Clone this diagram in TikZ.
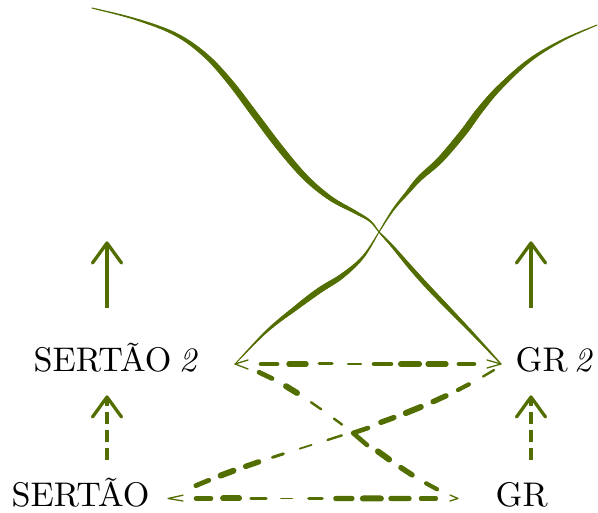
\documentclass[tikz,border=0pt]{standalone}
\usetikzlibrary{calc}
\definecolor{olv}{RGB}{82,110,0}
\newcommand\ldsh[5]{\pgfmathsetmacro\dshw{1.2*#5}\draw[dsh, line width=\dshw pt] ($(#1)!#3!(#2)$) -- ($(#1)!#4!(#2)$);}
\newcommand\cdsh[7]{\path (#1) .. controls (#2) and (#3) .. (#4) coordinate[pos=#5] (cdA) coordinate[pos=#6] (cdB);
  \pgfmathsetmacro\dshw{1.2*#7}\draw[dsh, line width=\dshw pt] (cdA) -- (cdB);}
% #1 number of segments, #2 point prefix, #3 width expression (uses \tpf, \tps)
\newcommand\taper[3]{%
  \pgfmathtruncatemacro\tplast{#1-1}%
  \foreach \i in {0,...,\tplast} {%
    \pgfmathtruncatemacro\tpa{max(\i-1,0)}%
    \pgfmathtruncatemacro\tpb{\i+1}%
    \pgfmathtruncatemacro\tpc{min(\i+2,#1)}%
    \coordinate (tc1) at ($(#2\i)+0.1667*(#2\tpb)-0.1667*(#2\tpa)$);
    \coordinate (tc2) at ($(#2\tpb)-0.1667*(#2\tpc)+0.1667*(#2\i)$);
    \foreach \k in {0,...,12} {\path (#2\i) .. controls (tc1) and (tc2) .. (#2\tpb) coordinate[pos=\k/12] (tq\k);}
    \foreach \k [remember=\k as \kp (initially 0)] in {1,...,12} {%
      \pgfmathsetmacro\tpf{(\i+(\k-0.5)/12)/#1}%
      \pgfmathsetmacro\tps{sin(180*\tpf)}%
      \pgfmathsetmacro\tpw{1.25*(#3)}%
      \draw[olv, line width=\tpw pt, line cap=round] (tq\kp) -- (tq\k);
    }
  }}
\begin{document}
\begin{tikzpicture}[x=1pt,y=-1pt,
  lbl/.style={anchor=base west, inner sep=0pt, scale=3.42},
  dsh/.style={olv, line cap=round},
  smalltip/.style={olv, line width=1.3pt, line cap=round, line join=round},
  bigtip/.style={olv, line width=3.3pt, line cap=round, line join=round},
  crosstip/.style={olv, line width=4.6pt, line cap=round, line join=round},
  shaft/.style={olv, line width=3.3pt},
  dshaft/.style={olv, line width=3.3pt, dash pattern=on 12pt off 6pt}]
\useasboundingbox (0,0) rectangle (598,513);
% labels
\node[lbl] (s2) at (33,372) {SERTÃO\hspace{2.2pt}\textit{2}};
\node[lbl] (g2) at (515,372) {GR\hspace{1.8pt}\textit{2}};
\node[lbl] (s) at (11,507) {SERTÃO};
\node[lbl] (g) at (495,507) {GR};
% connector end points
\coordinate (s2r) at (235,364);
\coordinate (g2l) at (501,364);
\coordinate (g2s) at (499,367);
\coordinate (sr) at (168,498.5);
\coordinate (gl) at (458,498.5);
\coordinate (xa) at (379,232);
\coordinate (xb) at (353,433);
\coordinate (ta) at (92,8);
\coordinate (tb) at (597,25);
\coordinate (c2a) at (309.3,382.7);
\coordinate (c2b) at (383.7,471);
\coordinate (c3a) at (388.7,435.7);
\coordinate (c3b) at (277.3,444.3);
\coordinate (s2a) at (107,308); \coordinate (s2t) at (107,243);
\coordinate (g2a) at (531,308); \coordinate (g2t) at (531,243);
\coordinate (sa) at (107,460);  \coordinate (sb) at (107,397);
\coordinate (ga) at (531,460);  \coordinate (gb) at (531,397);
% vertical arrows
\draw[shaft] (s2a) -- (s2t);
\draw[bigtip] ($(s2t)+(-14.5,20)$) -- (s2t) -- ($(s2t)+(14.5,20)$);
\draw[shaft] (g2a) -- (g2t);
\draw[bigtip] ($(g2t)+(-14.5,20)$) -- (g2t) -- ($(g2t)+(14.5,20)$);
\draw[dshaft] (sa) -- (sb);
\draw[bigtip] ($(sb)+(-14.5,20)$) -- (sb) -- ($(sb)+(14.5,20)$);
\draw[dshaft] (ga) -- (gb);
\draw[bigtip] ($(gb)+(-14.5,20)$) -- (gb) -- ($(gb)+(14.5,20)$);
% tapered curve A (top left to GR 2), upper half
\coordinate (A0) at (ta);
\coordinate (A1) at (135,19);
\coordinate (A2) at (175,34);
\coordinate (A3) at (205,55);
\coordinate (A4) at (230,82);
\coordinate (A5) at (255,115);
\coordinate (A6) at (280,148);
\coordinate (A7) at (305,177);
\coordinate (A8) at (330,198);
\coordinate (A9) at (355,212);
\coordinate (A10) at (370,221);
\coordinate (A11) at (xa);
\taper{11}{A}{0.8+4.6*(0.4*\tps+0.6*\tps*\tps)}
% lower half
\coordinate (B0) at (xa);
\coordinate (B1) at (393,247);
\coordinate (B2) at (410,267);
\coordinate (B3) at (428,287);
\coordinate (B4) at (450,310);
\coordinate (B5) at (475,336);
\coordinate (B6) at (g2l);
\taper{6}{B}{0.9+2.8*\tps}
% tapered curve B (SERTAO 2 to top right), lower half
\coordinate (C0) at (s2r);
\coordinate (C1) at (267,331);
\coordinate (C2) at (297,307);
\coordinate (C3) at (320,290);
\coordinate (C4) at (342,276);
\coordinate (C5) at (363,257);
\coordinate (C6) at (xa);
\taper{6}{C}{0.6+4*(0.5*\tps+0.5*\tps*\tps)}
% upper half
\coordinate (D0) at (xa);
\coordinate (D1) at (393,210);
\coordinate (D2) at (407,193);
\coordinate (D3) at (420,178);
\coordinate (D4) at (440,160);
\coordinate (D5) at (463,133);
\coordinate (D6) at (480,110);
\coordinate (D7) at (500,87);
\coordinate (D8) at (530,60);
\coordinate (D9) at (563,40);
\coordinate (D10) at (tb);
\taper{10}{D}{0.8+4.8*(0.4*\tps+0.6*\tps*\tps)}
% line 1: SERTAO 2 -- GR 2
\ldsh{s2r}{g2l}{.098}{.158}{4}
\ldsh{s2r}{g2l}{.203}{.267}{4.5}
\ldsh{s2r}{g2l}{.316}{.365}{2.5}
\ldsh{s2r}{g2l}{.425}{.474}{2}
\ldsh{s2r}{g2l}{.523}{.586}{4}
\ldsh{s2r}{g2l}{.624}{.692}{5}
\ldsh{s2r}{g2l}{.726}{.793}{4.5}
\ldsh{s2r}{g2l}{.842}{.898}{4}
% line 4: SERTAO -- GR
\ldsh{sr}{gl}{.097}{.148}{4}
\ldsh{sr}{gl}{.19}{.245}{5}
\ldsh{sr}{gl}{.286}{.338}{2.5}
\ldsh{sr}{gl}{.39}{.428}{1.5}
\ldsh{sr}{gl}{.486}{.531}{3}
\ldsh{sr}{gl}{.579}{.634}{4.5}
\ldsh{sr}{gl}{.672}{.734}{5}
\ldsh{sr}{gl}{.769}{.831}{4.5}
\ldsh{sr}{gl}{.872}{.924}{3.5}
% line 2: SERTAO 2 -- GR
\cdsh{s2r}{c2a}{c2b}{gl}{.108}{.166}{4}
\cdsh{s2r}{c2a}{c2b}{gl}{.229}{.278}{5}
\cdsh{s2r}{c2a}{c2b}{gl}{.341}{.386}{2}
\cdsh{s2r}{c2a}{c2b}{gl}{.444}{.48}{2}
\cdsh{s2r}{c2a}{c2b}{gl}{.641}{.691}{5}
\cdsh{s2r}{c2a}{c2b}{gl}{.744}{.794}{4.5}
\cdsh{s2r}{c2a}{c2b}{gl}{.857}{.906}{3.5}
% line 3: GR 2 -- SERTAO
\cdsh{g2s}{c3a}{c3b}{sr}{.015}{.048}{2}
\cdsh{g2s}{c3a}{c3b}{sr}{.091}{.124}{3.5}
\cdsh{g2s}{c3a}{c3b}{sr}{.16}{.199}{4.5}
\cdsh{g2s}{c3a}{c3b}{sr}{.236}{.281}{5}
\cdsh{g2s}{c3a}{c3b}{sr}{.317}{.356}{4.5}
\cdsh{g2s}{c3a}{c3b}{sr}{.474}{.517}{2}
\cdsh{g2s}{c3a}{c3b}{sr}{.565}{.601}{1.5}
\cdsh{g2s}{c3a}{c3b}{sr}{.65}{.683}{2.5}
\cdsh{g2s}{c3a}{c3b}{sr}{.725}{.764}{4.5}
\cdsh{g2s}{c3a}{c3b}{sr}{.801}{.84}{5}
\cdsh{g2s}{c3a}{c3b}{sr}{.876}{.915}{4}
% arrow heads
\draw[smalltip] ($(s2r)+(13,-4)$) -- (s2r) -- ($(s2r)+(13,5)$);
\draw[smalltip] ($(g2l)+(-14,-4)$) -- (g2l) -- ($(g2l)+(-14,4)$);
\draw[smalltip] ($(sr)+(15,-3.3)$) -- (sr) -- ($(sr)+(15,2.5)$);
\draw[smalltip] ($(gl)+(-8,-3.5)$) -- (gl) -- ($(gl)+(-8,2.5)$);
\draw[crosstip] ($(xb)+(15,-5)$) -- (xb) -- ($(xb)+(14,12)$);
\end{tikzpicture}
\end{document}
